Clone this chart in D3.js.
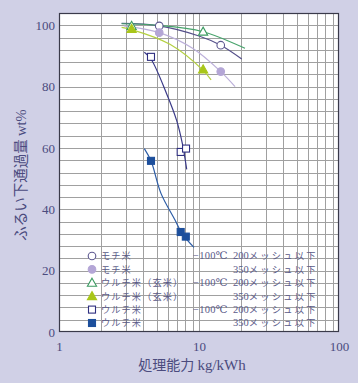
<!DOCTYPE html>
<html><head><meta charset="utf-8">
<script src="https://cdn.jsdelivr.net/npm/d3@7"></script>
<style>
html,body{margin:0;padding:0;background:#d0d0e6;}
svg{display:block;}
</style></head>
<body><svg id="c" width="358" height="383"></svg>
<script>
// ---- data ----
const xTicks = [1, 10, 100];
const yTicks = [0, 20, 40, 60, 80, 100];
const seriesNames = ["モチ米", "モチ米", "ウルチ米（玄米）", "ウルチ米（玄米）", "ウルチ米", "ウルチ米"];
const tempLabels = ["−100℃", "", "−100℃", "", "−100℃", ""];
const meshLabels = ["200メッシュ以下", "350メッシュ以下", "200メッシュ以下", "350メッシュ以下", "200メッシュ以下", "350メッシュ以下"];
const symbols = ["circle", "circle", "triangle", "triangle", "square", "square"];
const filled = [false, true, false, true, false, true];
const colors = ["#5d5890", "#b4a6d6", "#3d9b62", "#a9c61a", "#2f2f80", "#1d4f9c"];
const lineColors = ["#55508a", "#bcb0da", "#48a46c", "#b4d040", "#3a3a88", "#2c5ca6"];

// measured points [kg/kWh, wt%]
const pts0 = [[5.2, 99.8], [14.3, 93.5]];
const pts1 = [[5.2, 97.6], [14.3, 84.9]];
const pts2 = [[3.3, 99.8], [10.7, 97.9]];
const pts3 = [[3.3, 98.8], [10.7, 85.6]];
const pts4 = [[4.54, 89.7], [7.4, 58.7], [8.08, 59.8]];
const pts5 = [[4.54, 55.8], [7.4, 32.6], [8.05, 31.1]];
const points = [pts0, pts1, pts2, pts3, pts4, pts5];

// fitted curves
const curve0 = [[2.8, 100.6], [5.2, 99.8], [10, 96.5], [14.3, 93.5], [20.2, 89.0]];
const curve1 = [[2.9, 99.8], [5.2, 97.6], [9, 92.5], [14.3, 84.9], [18.1, 80.0]];
const curve2 = [[2.8, 100.5], [5, 100.0], [10.7, 97.9], [21.3, 92.5]];
const curve3 = [[2.8, 99.3], [3.3, 98.6], [6.2, 93.8], [10.7, 85.3], [12.2, 82.2]];
const curve4 = [[4.07, 91.2], [4.54, 89.0], [5.87, 77.7], [6.92, 69.0], [7.6, 61.5], [8.17, 53.0]];
const curve5 = [[4.07, 59.8], [4.54, 55.8], [5.35, 45.2], [6.74, 36.5], [7.6, 32.0], [9.2, 27.6]];
const curves = [curve0, curve1, curve2, curve3, curve4, curve5];

// ---- layout ----
const L = 59, R = 339, T = 13, B = 332;
const svg = d3.select("#c");
const x = d3.scaleLog().domain([1, 100]).range([L, R]);
const y = d3.scaleLinear().domain([0, 104]).range([B, T]);
const textCol = "#4b4b7e";
const serif = "'Liberation Serif','DejaVu Serif',serif";
const jp = "'Noto Sans CJK JP','Noto Sans CJK SC',sans-serif";

svg.append("rect").attr("x", L).attr("y", T).attr("width", R - L).attr("height", B - T).attr("fill", "#fff");

// grid
const g = svg.append("g");
const xGrid = [];
for (let d = 1; d < 100; d *= 10) for (let k = 2; k <= 10; k++) xGrid.push(d * k);
g.selectAll(".vx").data(xGrid.filter(v => v < 100)).join("line")
  .attr("x1", d => Math.round(x(d)) + 0.5).attr("x2", d => Math.round(x(d)) + 0.5)
  .attr("y1", T).attr("y2", B).attr("stroke", "#a0a0a0").attr("stroke-width", 1);
g.selectAll(".hy").data(d3.range(4, 104, 4)).join("line")
  .attr("y1", d => Math.round(y(d)) + 0.5).attr("y2", d => Math.round(y(d)) + 0.5)
  .attr("x1", L).attr("x2", R).attr("stroke", "#a0a0a0").attr("stroke-width", 1);

// frame
svg.append("rect").attr("x", L + 0.5).attr("y", T + 0.5).attr("width", R - L - 1).attr("height", B - T - 1)
  .attr("fill", "none").attr("stroke", "#3a3a4a").attr("stroke-width", 1.2);

// axes (labels only, via d3 axis)
const xAx = svg.append("g").attr("transform", `translate(0,${B})`)
  .call(d3.axisBottom(x).tickValues(xTicks).tickFormat(d3.format("d")).tickSize(0).tickPadding(10));
const yAx = svg.append("g").attr("transform", `translate(${L},0)`)
  .call(d3.axisLeft(y).tickValues(yTicks).tickSize(0).tickPadding(4));
[xAx, yAx].forEach(a => {
  a.select(".domain").remove();
  a.selectAll("text").attr("fill", textCol).attr("font-family", serif).attr("font-size", 13);
});

// curves
const line = d3.line().x(d => x(d[0])).y(d => y(d[1])).curve(d3.curveCatmullRom.alpha(0.5));
svg.append("g").selectAll("path").data(curves).join("path")
  .attr("d", line).attr("fill", "none")
  .attr("stroke", (d, i) => lineColors[i]).attr("stroke-width", 1.2);

// markers
function drawSym(sel, i, cx, cy) {
  const fill = filled[i] ? colors[i] : "#fff";
  const stroke = colors[i];
  if (symbols[i] === "circle") {
    sel.append("circle").attr("cx", cx).attr("cy", cy).attr("r", 3.8)
      .attr("fill", fill).attr("stroke", stroke).attr("stroke-width", 1.1);
  } else if (symbols[i] === "square") {
    sel.append("rect").attr("x", cx - 3.5).attr("y", cy - 3.5).attr("width", 7).attr("height", 7)
      .attr("fill", fill).attr("stroke", stroke).attr("stroke-width", 1.1);
  } else {
    const s = 4.6;
    sel.append("path").attr("d", `M${cx},${cy - s}L${cx + s},${cy + s * 0.75}L${cx - s},${cy + s * 0.75}Z`)
      .attr("fill", fill).attr("stroke", stroke).attr("stroke-width", 1.1);
  }
}
const mk = svg.append("g");
points.forEach((arr, i) => arr.forEach(p => drawSym(mk, i, x(p[0]), y(p[1]))));

// legend
const lg = svg.append("g");
const ly0 = 256, ldy = 13.4, lfs = 9.2, lcol = "#5a5a88";
seriesNames.forEach((name, i) => {
  const yy = ly0 + i * ldy;
  const gg = lg.append("g");
  drawSym(gg, i, 92, yy);
  lg.append("text").attr("x", 101).attr("y", yy + 3.4).text(name)
    .attr("font-family", jp).attr("font-size", lfs).attr("letter-spacing", 1.1).attr("fill", lcol);
  if (tempLabels[i]) lg.append("text").attr("x", 193).attr("y", yy + 3.4).text(tempLabels[i])
    .attr("font-family", serif).attr("font-size", 10.5).attr("letter-spacing", 0.3).attr("fill", lcol);
  const m = meshLabels[i].match(/^(\d+)(.*)$/);
  const t = lg.append("text").attr("x", 233).attr("y", yy + 3.4).attr("fill", lcol);
  t.append("tspan").attr("font-family", serif).attr("font-size", 10.5).text(m[1]);
  t.append("tspan").attr("font-family", jp).attr("font-size", lfs).attr("letter-spacing", 2.3).text(m[2]);
});

// axis titles
const xt = svg.append("text").attr("x", 192).attr("y", 370).attr("text-anchor", "middle")
  .attr("font-size", 14).attr("fill", textCol);
xt.append("tspan").attr("font-family", jp).text("処理能力 ");
xt.append("tspan").attr("font-family", serif).attr("font-size", 15).text("kg/kWh");
const yt = svg.append("text").attr("transform", "translate(26,175) rotate(-90)").attr("text-anchor", "middle")
  .attr("font-size", 14.5).attr("fill", textCol);
yt.append("tspan").attr("font-family", jp).text("ふるい下通過量 ");
yt.append("tspan").attr("font-family", serif).text("wt%");
</script></body></html>
